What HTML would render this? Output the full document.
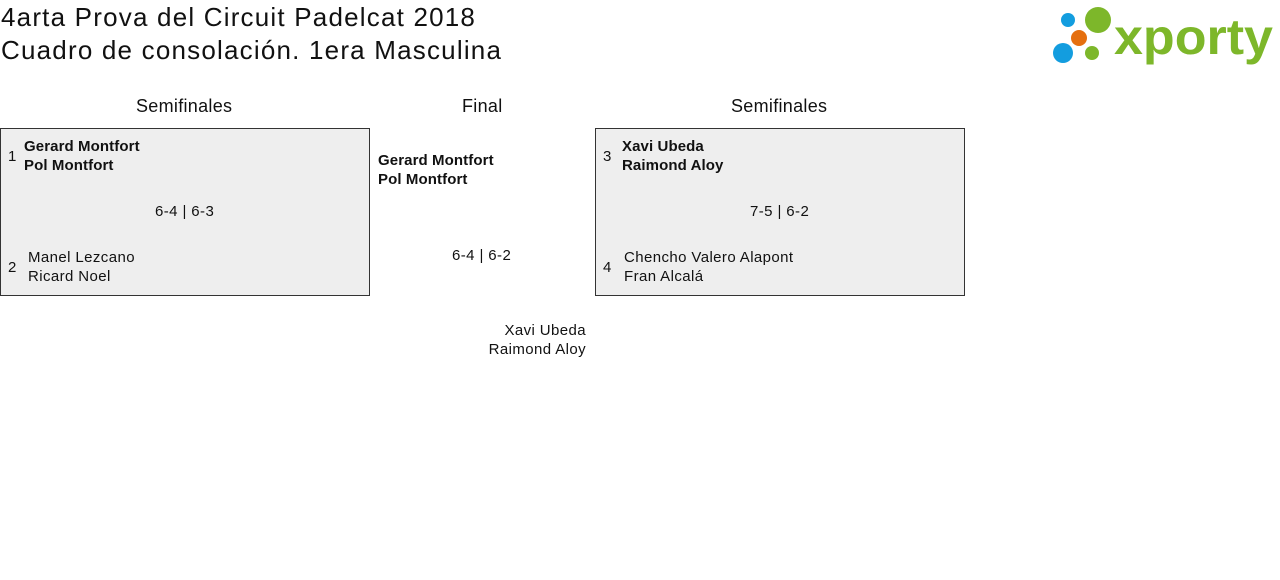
<!DOCTYPE html>
<html><head><meta charset="utf-8"><style>
body{margin:0;width:1280px;height:580px;background:#fff;font-family:"Liberation Sans",sans-serif;color:#111;position:relative;overflow:hidden}
.a{position:absolute;white-space:nowrap}
.t{font-size:26px;letter-spacing:1.2px}
.h{font-size:18px;letter-spacing:0.3px}
.n{font-size:15px;line-height:19px;letter-spacing:0.4px}
.b{font-weight:bold;font-size:15px;line-height:19px;letter-spacing:0.1px}
.box{position:absolute;top:128px;width:368px;height:166px;background:#eee;border:1px solid #333}
</style></head><body>
<div class="a t" style="left:1px;top:2px">4arta Prova del Circuit Padelcat 2018</div>
<div class="a t" style="left:1px;top:35px">Cuadro de consolación. 1era Masculina</div>
<svg class="a" style="left:1050px;top:4px" width="228" height="62">
<circle cx="18" cy="16" r="7" fill="#139ddf"/><circle cx="48" cy="16" r="13" fill="#7db72a"/>
<circle cx="29" cy="34" r="8" fill="#e56f0f"/><circle cx="13" cy="49" r="10" fill="#139ddf"/>
<circle cx="42" cy="49" r="7" fill="#7db72a"/>
<text x="64" y="50" font-family="Liberation Sans" font-weight="bold" font-size="50" fill="#7db72a" textLength="159" lengthAdjust="spacingAndGlyphs">xporty</text>
</svg>
<div class="a h" style="left:136px;top:96px">Semifinales</div>
<div class="a h" style="left:462px;top:96px">Final</div>
<div class="a h" style="left:731px;top:96px">Semifinales</div>
<div class="box" style="left:0"></div>
<div class="box" style="left:595px"></div>
<div class="a n" style="left:8px;top:147px">1</div>
<div class="a b" style="left:24px;top:137px">Gerard Montfort<br>Pol Montfort</div>
<div class="a n" style="left:155px;top:202px">6-4 | 6-3</div>
<div class="a n" style="left:8px;top:258px">2</div>
<div class="a n" style="left:28px;top:248px">Manel Lezcano<br>Ricard Noel</div>
<div class="a n" style="left:603px;top:147px">3</div>
<div class="a b" style="left:622px;top:137px">Xavi Ubeda<br>Raimond Aloy</div>
<div class="a n" style="left:750px;top:202px">7-5 | 6-2</div>
<div class="a n" style="left:603px;top:258px">4</div>
<div class="a n" style="left:624px;top:248px">Chencho Valero Alapont<br>Fran Alcalá</div>
<div class="a b" style="left:378px;top:151px">Gerard Montfort<br>Pol Montfort</div>
<div class="a n" style="left:452px;top:246px">6-4 | 6-2</div>
<div class="a n" style="right:694px;top:321px;text-align:right">Xavi Ubeda<br>Raimond Aloy</div>
</body></html>
